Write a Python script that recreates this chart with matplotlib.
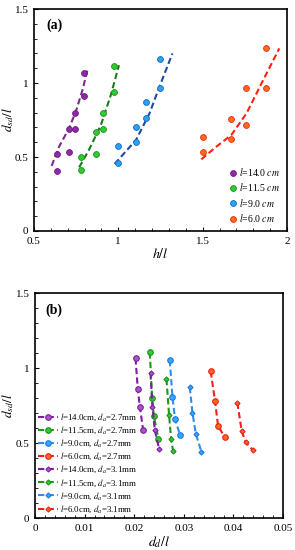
import numpy as np
import matplotlib
matplotlib.use("Agg")
import matplotlib.pyplot as plt
from matplotlib.ticker import MultipleLocator

plt.rcParams['font.family'] = ['Liberation Serif', 'DejaVu Serif']
plt.rcParams['mathtext.fontset'] = 'stix'

# panel (a): h/l vs dsd/l
hl_14 = [0.639, 0.639, 0.71, 0.71, 0.746, 0.746, 0.798, 0.798]
dsd_14 = [0.407, 0.518, 0.532, 0.687, 0.687, 0.795, 0.914, 1.07]
hl_115 = [0.778, 0.778, 0.869, 0.869, 0.909, 0.909, 0.972, 0.972]
dsd_115 = [0.412, 0.50, 0.518, 0.667, 0.687, 0.795, 0.937, 1.117]
hl_9 = [0.998, 0.998, 1.107, 1.107, 1.167, 1.167, 1.246, 1.246]
dsd_9 = [0.459, 0.572, 0.603, 0.705, 0.761, 0.87, 0.964, 1.16]
hl_6 = [1.504, 1.504, 1.668, 1.668, 1.756, 1.756, 1.873, 1.873]
dsd_6 = [0.536, 0.637, 0.62, 0.755, 0.718, 0.968, 0.968, 1.239]
# trendlines, points
tx_14 = [0.605, 0.649, 0.708, 0.748, 0.788, 0.817]
ty_14 = [0.44, 0.57, 0.694, 0.806, 0.953, 1.088]
tx_115 = [0.768, 0.827, 0.897, 0.956, 1.004]
ty_115 = [0.43, 0.55, 0.716, 0.92, 1.12]
tx_9 = [0.978, 1.105, 1.185, 1.244, 1.321]
ty_9 = [0.453, 0.615, 0.795, 0.975, 1.2]
tx_6 = [1.492, 1.581, 1.67, 1.76, 1.849, 1.954]
ty_6 = [0.484, 0.57, 0.649, 0.795, 0.998, 1.234]
labels_a = ['$l$=14.0 $cm$', '$l$=11.5 $cm$', '$l$=9.0 $cm$', '$l$=6.0 $cm$']

# panel (b): dd/l vs dsd/l
dd_14_27 = [0.02026, 0.02072, 0.02113, 0.0218]
ds_14_27 = [1.067, 0.862, 0.744, 0.589]
dd_115_27 = [0.02314, 0.0236, 0.02394, 0.02489]
ds_115_27 = [1.107, 0.804, 0.684, 0.529]
dd_9_27 = [0.02716, 0.02771, 0.02823, 0.02924]
ds_9_27 = [1.055, 0.81, 0.66, 0.555]
dd_6_27 = [0.03541, 0.03628, 0.03689, 0.03823]
ds_6_27 = [0.98, 0.784, 0.618, 0.54]
dd_14_31 = [0.02328, 0.02368, 0.02414, 0.02502]
ds_14_31 = [0.967, 0.744, 0.589, 0.462]
dd_115_31 = [0.0265, 0.02702, 0.02743, 0.02783]
ds_115_31 = [0.929, 0.689, 0.529, 0.449]
dd_9_31 = [0.03119, 0.03173, 0.0324, 0.03354]
ds_9_31 = [0.875, 0.705, 0.565, 0.444]
dd_6_31 = [0.04078, 0.04165, 0.04245, 0.04392]
ds_6_31 = [0.771, 0.584, 0.507, 0.455]

fig = plt.figure(figsize=(2.95, 5.5), dpi=100)
ax1 = fig.add_axes([0.115, 0.58, 0.858, 0.4036])
ax2 = fig.add_axes([0.1186, 0.0576, 0.841, 0.409])

# colours: (line, fill, edge)
cols_a = [('#7B2A8E', '#8E2AA6', '#6A1B80'),
          ('#1B7A1B', '#2ECC2E', '#1E8E1E'),
          ('#1F4A9E', '#2AA4F2', '#1565C0'),
          ('#FF2010', '#FF6A1A', '#E8281A')]

sets_a = [(hl_14, dsd_14, tx_14, ty_14), (hl_115, dsd_115, tx_115, ty_115),
          (hl_9, dsd_9, tx_9, ty_9), (hl_6, dsd_6, tx_6, ty_6)]
for (x, y, xt, yt), (lc, fc, ec), lab in zip(sets_a, cols_a, labels_a):
    ax1.plot(x, y, 'o', ms=4.2, mfc=fc, mec=ec, mew=0.6, label=lab, zorder=3)
    ax1.plot(xt, yt, '--', color=lc, lw=1.5, dashes=(3, 1.6), zorder=2)

ax1.set_xlim(0.5, 2)
ax1.set_ylim(0, 1.5)
ax1.xaxis.set_minor_locator(MultipleLocator(0.1))
ax1.yaxis.set_minor_locator(MultipleLocator(0.1))
ax1.set_xticks([0.5, 1, 1.5, 2])
ax1.set_xticklabels(['0.5', '1', '1.5', '2'])
ax1.set_yticks([0, 0.5, 1, 1.5])
ax1.set_yticklabels(['0', '0.5', '1', '1.5'])
ax1.set_xlabel('$h/l$', fontsize=10, labelpad=1)
ax1.set_ylabel('$d_{sd}/l$', fontsize=9.5)
ax1.yaxis.set_label_coords(-0.072, 0.5)
ax1.text(0.05, 0.955, '(a)', transform=ax1.transAxes, fontsize=10,
         fontweight='bold', va='top')
ax1.legend(loc='lower right', frameon=False, fontsize=7, handlelength=0.6,
           handletextpad=0.3, labelspacing=0.35, borderaxespad=0.3)

cols_b = [('#7B1FA2', '#A855C8', '#7B1FA2'),
          ('#1E941E', '#2ECC2E', '#1E8E1E'),
          ('#2E8BF0', '#33AAF5', '#1E78E0'),
          ('#F02020', '#FF6A1A', '#E8201A')]
sets_27 = [(dd_14_27, ds_14_27), (dd_115_27, ds_115_27),
           (dd_9_27, ds_9_27), (dd_6_27, ds_6_27)]
sets_31 = [(dd_14_31, ds_14_31), (dd_115_31, ds_115_31),
           (dd_9_31, ds_9_31), (dd_6_31, ds_6_31)]
names = ['14.0', '11.5', '9.0', '6.0']
for (x, y), (lc, fc, ec), n in zip(sets_27, cols_b, names):
    ax2.plot(x, y, '--', color=lc, lw=1.5, dashes=(3, 1.6), marker='o', ms=4,
             mfc=fc, mec=ec, mew=0.8, label='$l$=' + n + 'cm, $d_a$=2.7mm')
for (x, y), (lc, fc, ec), n in zip(sets_31, cols_b, names):
    ax2.plot(x, y, '--', color=lc, lw=1.5, dashes=(3, 1.6), marker='D', ms=2.6,
             mfc=fc, mec=ec, mew=0.8, label='$l$=' + n + 'cm, $d_a$=3.1mm')

ax2.set_xlim(0, 0.05)
ax2.set_ylim(0, 1.5)
ax2.xaxis.set_minor_locator(MultipleLocator(0.002))
ax2.yaxis.set_minor_locator(MultipleLocator(0.1))
ax2.set_xticks([0, 0.01, 0.02, 0.03, 0.04, 0.05])
ax2.set_xticklabels(['0', '0.01', '0.02', '0.03', '0.04', '0.05'])
ax2.set_yticks([0, 0.5, 1, 1.5])
ax2.set_yticklabels(['0', '0.5', '1', '1.5'])
ax2.set_xlabel('$d_d/l$', fontsize=10, labelpad=1)
ax2.set_ylabel('$d_{sd}/l$', fontsize=9.5)
ax2.yaxis.set_label_coords(-0.078, 0.5)
ax2.text(0.04, 0.955, '(b)', transform=ax2.transAxes, fontsize=10,
         fontweight='bold', va='top')
ax2.legend(loc='lower left', frameon=False, fontsize=6.3, handlelength=2.2,
           handletextpad=0.3, labelspacing=0.2, borderaxespad=0.2,
           borderpad=0.2)

for ax in (ax1, ax2):
    ax.tick_params(which='both', direction='in', labelsize=8, pad=4)
    ax.tick_params(which='major', length=3, width=0.8)
    ax.tick_params(which='minor', length=2, width=0.6)
    ax.tick_params(top=False, right=False)
    for s in ax.spines.values():
        s.set_linewidth(1.2)

fig.savefig('out.png', dpi=100)
